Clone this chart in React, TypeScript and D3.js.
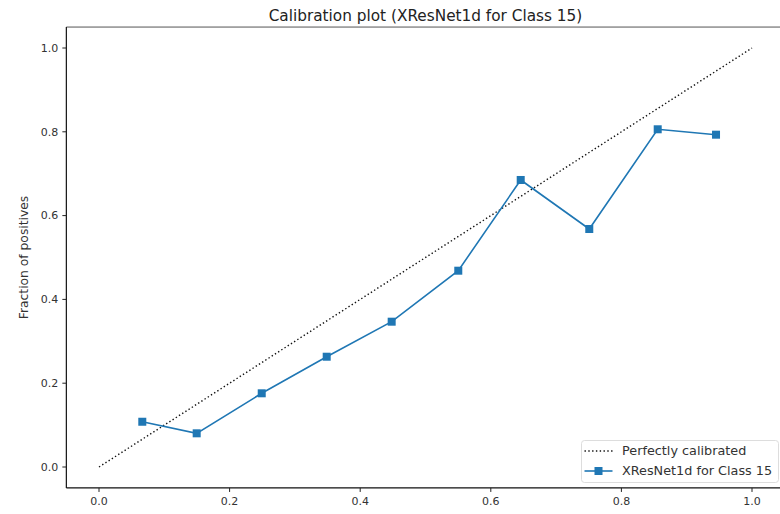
import React from "react";
import * as d3 from "d3";

// Calibration curve: mean predicted probability per bin vs observed fraction of positives
const meanPredicted = [0.0663, 0.1496, 0.2492, 0.3487, 0.4482, 0.5502, 0.6458, 0.7508, 0.8556, 0.9449];
const fractionPositives = [0.108, 0.0804, 0.1759, 0.2632, 0.3468, 0.4685, 0.685, 0.568, 0.806, 0.7931];
const tickValues = [0, 0.2, 0.4, 0.6, 0.8, 1.0];
const perfectLine = [0, 1];

const title = "Calibration plot (XResNet1d for Class 15)";
const xLabel = "Mean predicted probability (Positive class: 1)";
const yLabel = "Fraction of positives";
const legendLabels = ["Perfectly calibrated", "XResNet1d for Class 15"];

const W = 780;
const H = 514;
const FONT = "DejaVu Sans, sans-serif";
const BLUE = "#1f77b4";

export default function App() {
  const x = d3.scaleLinear().domain([-0.05, 1.05]).range([66.35, 784.65]);
  const y = d3.scaleLinear().domain([-0.05, 1.05]).range([487.95, 27.05]);

  const pts: [number, number][] = meanPredicted.map((v, i) => [v, fractionPositives[i]]);
  const line = d3
    .line<[number, number]>()
    .x((d) => x(d[0]))
    .y((d) => y(d[1]));

  const [x0, x1] = x.range();
  const [yb, yt] = y.range();

  const legX = 581.5;
  const legY = 440.5;
  const legW = 197;
  const legH = 42;
  const row1 = 451;
  const row2 = 471;
  const hx0 = legX + 3;
  const hx1 = legX + 31;

  return (
    <svg
      width={W}
      height={H}
      style={{ position: "absolute", left: 0, top: 0, background: "#fff" }}
      fontFamily={FONT}
    >
      <rect x={0} y={0} width={W} height={H} fill="#fff" />

      {/* title */}
      <text x={(x0 + x1) / 2} y={21} textAnchor="middle" fontSize={15.3} fill="#222">
        {title}
      </text>

      {/* spines */}
      <line x1={x0} y1={yt} x2={x1} y2={yt} stroke="#555" strokeWidth={1} />
      <line x1={x0} y1={yb} x2={x1} y2={yb} stroke="#111" strokeWidth={1.2} />
      <line x1={x0} y1={yt} x2={x0} y2={yb} stroke="#111" strokeWidth={1.2} />
      <line x1={x1} y1={yt} x2={x1} y2={yb} stroke="#111" strokeWidth={1.2} />

      {/* x ticks */}
      {tickValues.map((t) => (
        <g key={"x" + t} transform={`translate(${x(t)},${yb})`}>
          <line y1={0} y2={4} stroke="#222" strokeWidth={1} />
          <text y={17} textAnchor="middle" fontSize={11} fill="#333">
            {t.toFixed(1)}
          </text>
        </g>
      ))}

      {/* y ticks */}
      {tickValues.map((t) => (
        <g key={"y" + t} transform={`translate(${x0},${y(t)})`}>
          <line x1={0} x2={-4} stroke="#222" strokeWidth={1} />
          <text x={-8} dy="0.35em" textAnchor="end" fontSize={11} fill="#333">
            {t.toFixed(1)}
          </text>
        </g>
      ))}

      {/* axis labels */}
      <text x={(x0 + x1) / 2} y={523} textAnchor="middle" fontSize={12.3} fill="#333">
        {xLabel}
      </text>
      <text
        transform={`translate(28,${(yt + yb) / 2}) rotate(-90)`}
        textAnchor="middle"
        fontSize={12.3}
        fill="#333"
      >
        {yLabel}
      </text>

      {/* perfectly calibrated diagonal */}
      <line
        x1={x(perfectLine[0])}
        y1={y(perfectLine[0])}
        x2={x(perfectLine[1])}
        y2={y(perfectLine[1])}
        stroke="#111"
        strokeWidth={1.4}
        strokeDasharray="1.4,2.4"
      />

      {/* calibration curve */}
      <path d={line(pts) ?? ""} fill="none" stroke={BLUE} strokeWidth={1.6} />
      {pts.map((d, i) => (
        <rect key={i} x={x(d[0]) - 4} y={y(d[1]) - 4} width={8} height={8} fill={BLUE} />
      ))}

      {/* legend */}
      <rect
        x={legX}
        y={legY}
        width={legW}
        height={legH}
        rx={3}
        fill="#fff"
        fillOpacity={0.8}
        stroke="#ddd"
        strokeWidth={1}
      />
      <line x1={hx0} y1={row1} x2={hx1} y2={row1} stroke="#111" strokeWidth={1.4} strokeDasharray="1.4,2.4" />
      <text x={622} y={row1} dy="0.35em" fontSize={12.8} fill="#333">
        {legendLabels[0]}
      </text>
      <line x1={hx0} y1={row2} x2={hx1} y2={row2} stroke={BLUE} strokeWidth={1.6} />
      <rect x={(hx0 + hx1) / 2 - 4} y={row2 - 4} width={8} height={8} fill={BLUE} />
      <text x={622} y={row2} dy="0.35em" fontSize={12.8} fill="#333">
        {legendLabels[1]}
      </text>
    </svg>
  );
}
